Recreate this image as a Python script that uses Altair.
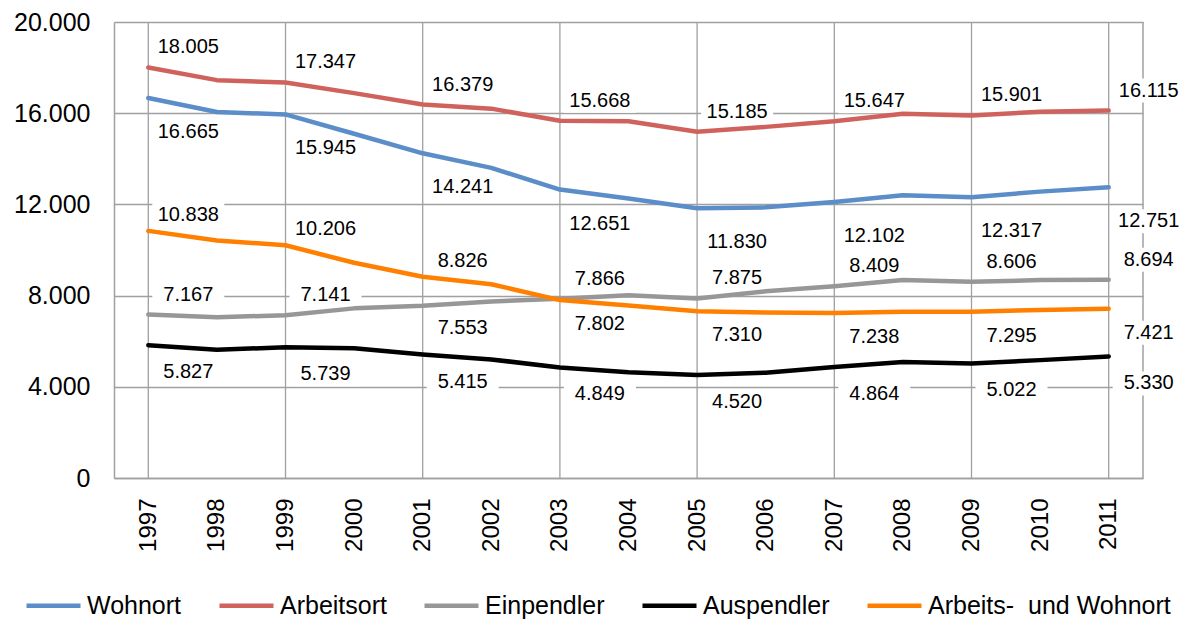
import altair as alt
import pandas as pd

YEARS = list(range(1997, 2012))
SERIES = ["Wohnort", "Arbeitsort", "Einpendler", "Auspendler", "Arbeits-  und Wohnort"]
COLORS = ["#5B8DC9", "#D0625D", "#979797", "#000000", "#FF8000"]

WOHNORT = [16665, 16050, 15945, 15100, 14241, 13600, 12651, 12260, 11830, 11870, 12102, 12400, 12317, 12560, 12751]
ARBEITSORT = [18005, 17450, 17347, 16880, 16379, 16200, 15668, 15650, 15185, 15400, 15647, 15980, 15901, 16060, 16115]
EINPENDLER = [7167, 7050, 7141, 7440, 7553, 7740, 7866, 8010, 7875, 8190, 8409, 8680, 8606, 8680, 8694]
AUSPENDLER = [5827, 5620, 5739, 5690, 5415, 5200, 4849, 4640, 4520, 4620, 4864, 5090, 5022, 5170, 5330]
ARB_WOHN = [10838, 10420, 10206, 9440, 8826, 8500, 7802, 7570, 7310, 7260, 7238, 7290, 7295, 7370, 7421]
Y_TICKS = [0, 4000, 8000, 12000, 16000, 20000]

FONT = "Liberation Sans"
GRID = "#A0A0A0"

rows = []
for name, vals in zip(SERIES, [WOHNORT, ARBEITSORT, EINPENDLER, AUSPENDLER, ARB_WOHN]):
    for yr, v in zip(YEARS, vals):
        rows.append({"year": yr, "series": name, "value": v})
df = pd.DataFrame(rows)

# label placement (Excel-like: labels on odd years only)
lookup = {(r.series, r.year): r.value for r in df.itertuples()}
lab = df[df.year % 2 == 1].copy()


def place(r):
    if r.series == "Arbeitsort":
        return -20
    if r.series == "Wohnort":
        return 34
    if r.series == "Auspendler":
        return 27
    other = "Arbeits-  und Wohnort" if r.series == "Einpendler" else "Einpendler"
    ov = lookup[(other, r.year)]
    above = abs(r.value - ov) > 2500 or r.value > ov
    if r.series == "Einpendler":
        return -20 if above else 22
    return -16 if above else 24


lab["dy"] = [place(r) for r in lab.itertuples()]
lab["label"] = [f"{v:,}".replace(",", ".") for v in lab.value]

years_df = pd.DataFrame({"year": YEARS})

xscale = alt.Scale(type="point", padding=0.5, domain=YEARS)
yscale = alt.Scale(domain=[0, 20000], nice=False)

x_axis = alt.Axis(labelAngle=270, labelPadding=20, ticks=False, grid=False,
                  labelFont=FONT, labelFontSize=24, labelColor="black",
                  domainColor=GRID, domainWidth=1.5)
y_axis = alt.Axis(values=Y_TICKS, ticks=False, grid=True, gridColor=GRID, gridWidth=1.3,
                  labelExpr="replace(format(datum.value, ','), ',', '.')",
                  labelFont=FONT, labelFontSize=25, labelColor="black", labelPadding=24,
                  domainColor=GRID, domainWidth=1.5)


def X():
    return alt.X("year:O", scale=xscale, axis=x_axis, title=None)


def Y():
    return alt.Y("value:Q", scale=yscale, axis=y_axis, title=None)


grid_rules = alt.Chart(years_df).transform_filter("datum.year % 2 == 1").mark_rule(
    color=GRID, strokeWidth=1.3
).encode(x=X())

frame_rule = alt.Chart(pd.DataFrame({"edge": ["right"]})).mark_rule(
    color=GRID, strokeWidth=1.5
).encode(x=alt.value("width"))

box_path = "M-1.5,-0.5L1.5,-0.5L1.5,0.5L-1.5,0.5Z"
boxes = []
texts = []
for dyv in sorted(lab.dy.unique()):
    sub = lab[lab.dy == dyv]
    boxes.append(
        alt.Chart(sub).mark_point(shape=box_path, size=2304, filled=True, fill="white",
                                  opacity=1, strokeWidth=0, xOffset=40, yOffset=int(dyv))
        .encode(x=X(), y=Y())
    )
    texts.append(
        alt.Chart(sub).mark_text(font=FONT, fontSize=20, color="black", dx=40, dy=int(dyv),
                                 align="center", baseline="middle")
        .encode(x=X(), y=Y(), text="label:N")
    )

lines = alt.Chart(df).mark_line(strokeWidth=4.5, strokeCap="round", strokeJoin="round").encode(
    x=X(),
    y=Y(),
    color=alt.Color("series:N", scale=alt.Scale(domain=SERIES, range=COLORS), sort=SERIES,
                    legend=alt.Legend(orient="none", legendX=-90, legendY=554, direction="horizontal",
                                      columns=5, title=None, symbolType="stroke", symbolSize=2916,
                                      symbolStrokeWidth=4.5, labelFont=FONT, labelFontSize=25,
                                      labelColor="black", labelOffset=4, columnPadding=28,
                                      padding=0, labelLimit=400,
                                      labelExpr="replace(datum.label, '  ', '\u00a0 ')")),
)

chart = alt.layer(grid_rules, frame_rule, *boxes, lines, *texts).properties(
    width=1029, height=456,
    padding={"left": 106, "top": 14, "right": 36, "bottom": 142},
    autosize=alt.AutoSizeParams(type="none"),
).configure_view(stroke=None)

chart.save("out.html", embed_options={"renderer": "svg", "actions": False})
